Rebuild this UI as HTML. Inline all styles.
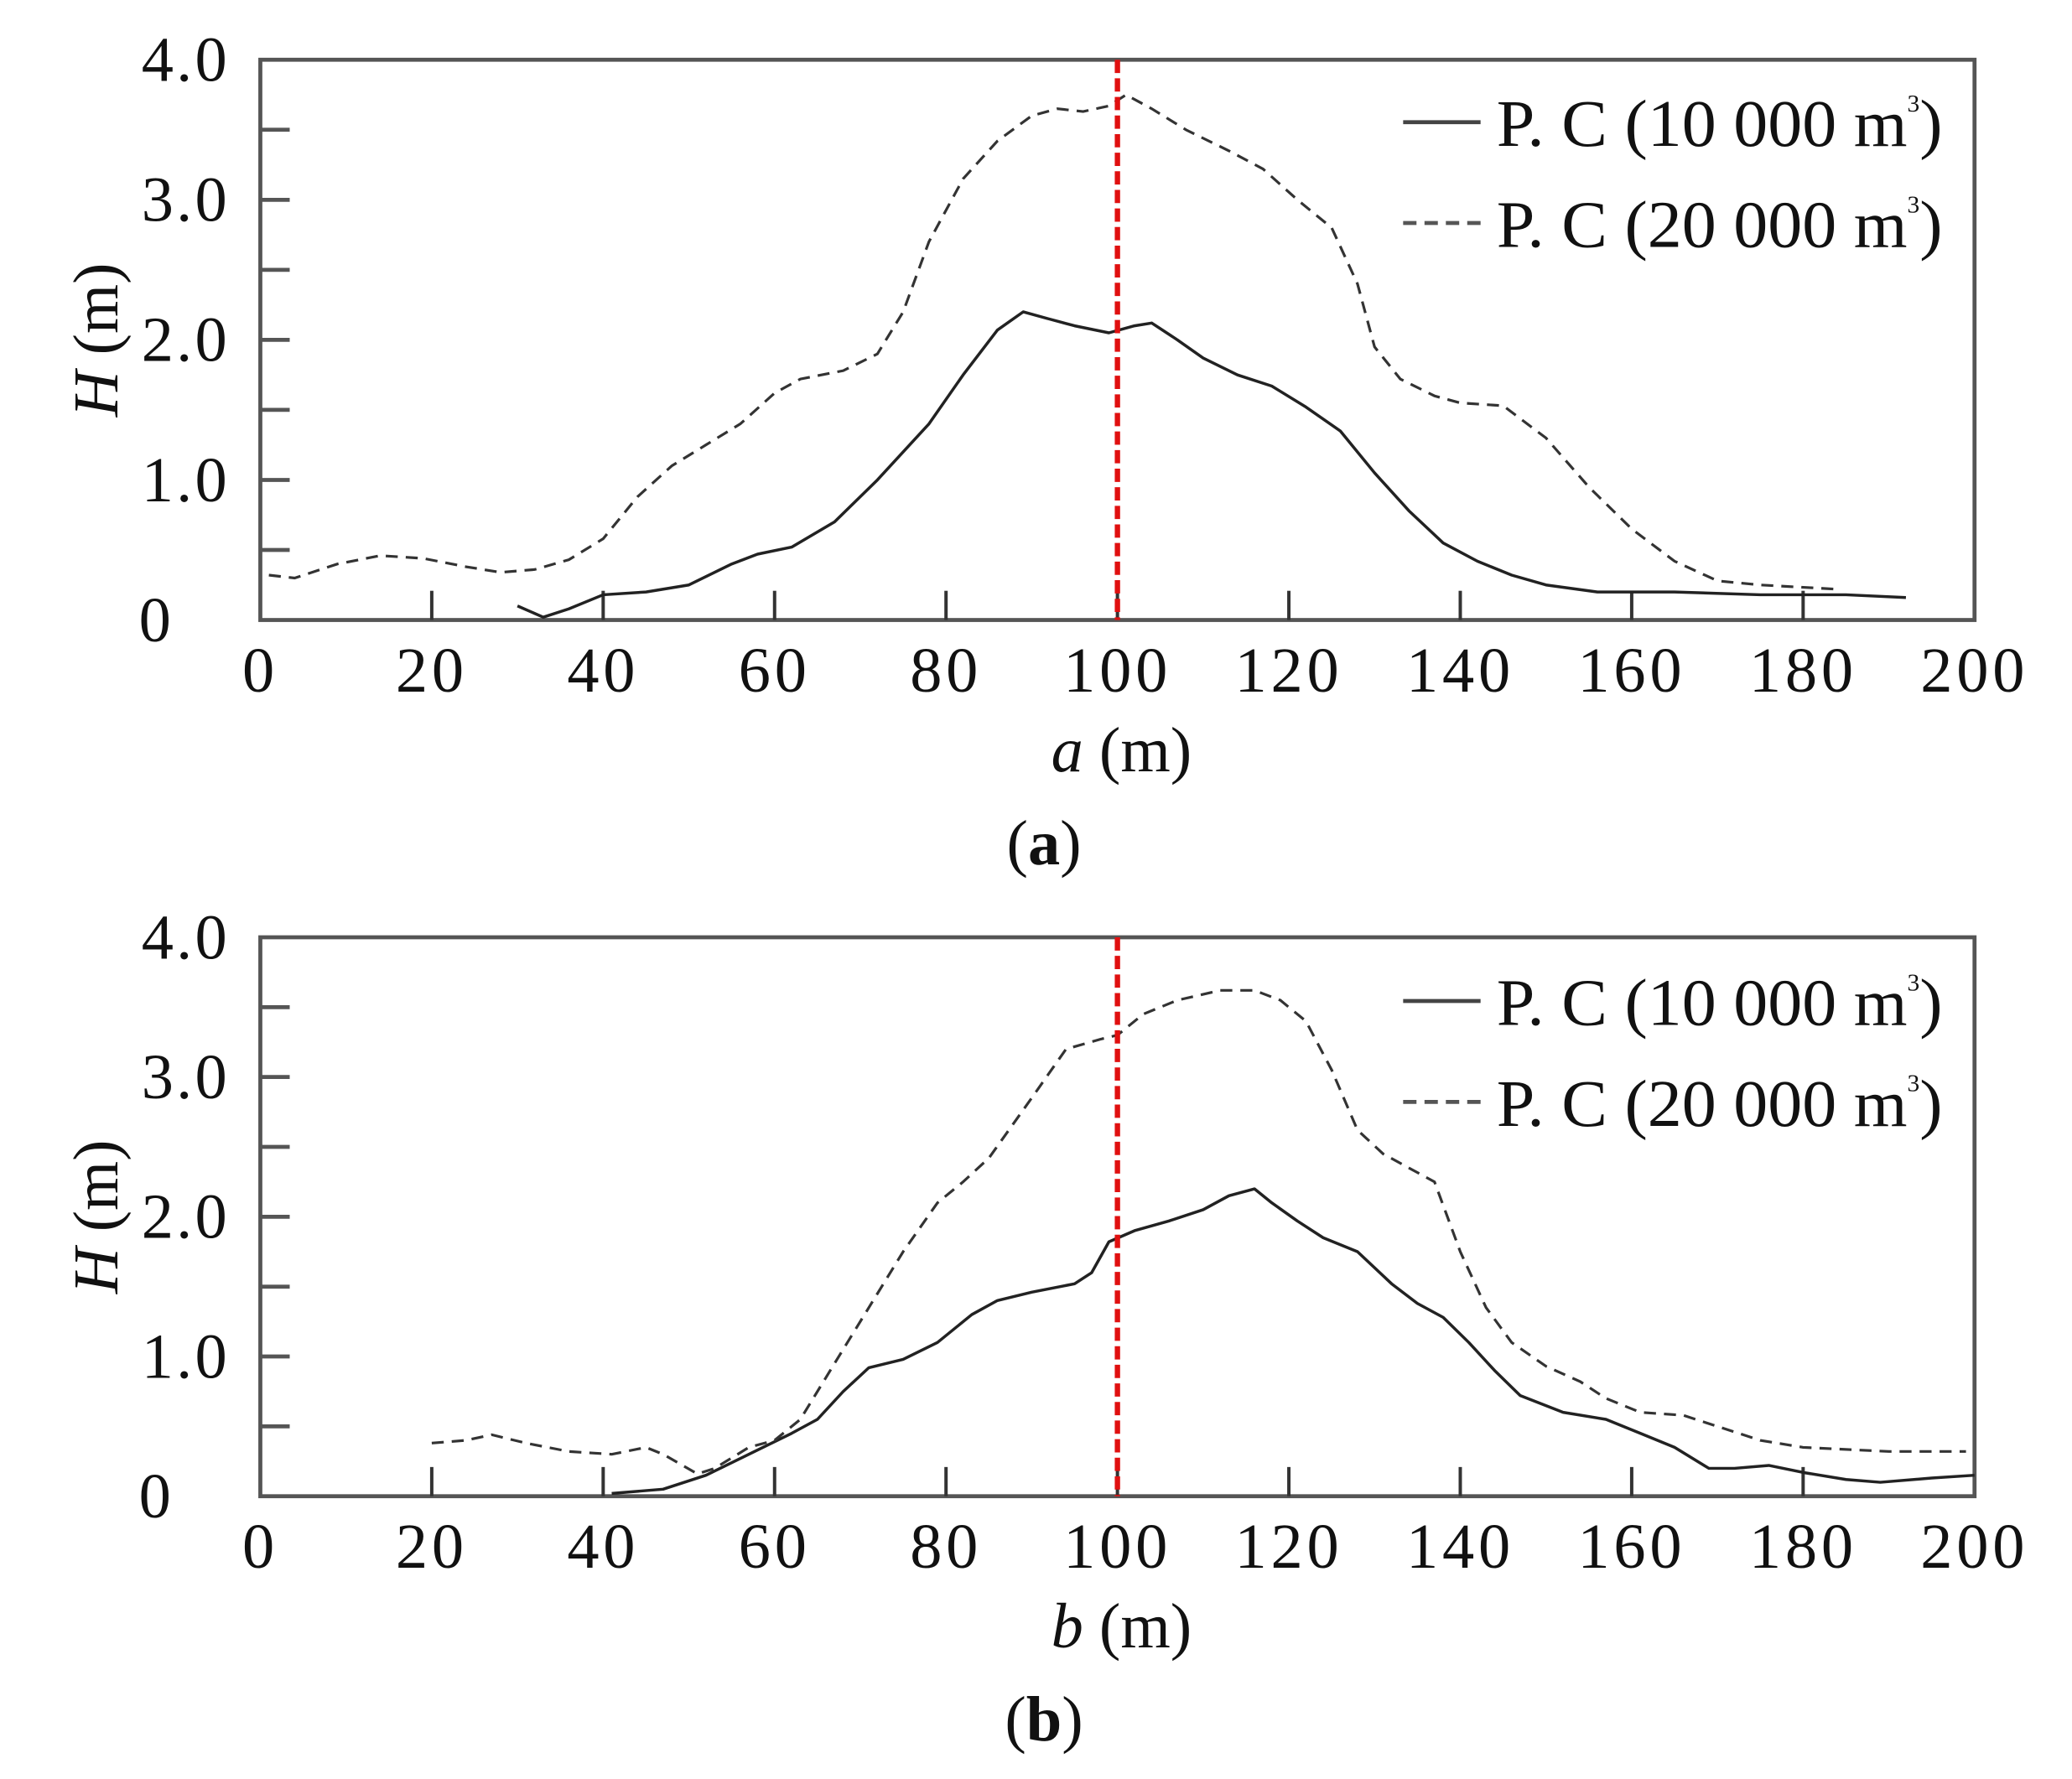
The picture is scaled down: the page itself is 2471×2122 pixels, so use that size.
<!DOCTYPE html>
<html><head><meta charset="utf-8"><style>
html,body{margin:0;padding:0;background:#fff;}
svg{display:block;}
text{font-family:"Liberation Serif",serif;fill:#111;}
</style></head><body>
<svg id="s" width="2471" height="2122" viewBox="0 0 1552 1340" preserveAspectRatio="none" xmlns="http://www.w3.org/2000/svg"></svg>
<script>
const S=document.getElementById('s');let h='';
function panel(top,bot,lab,cap,sol,das,ly){
 const L=195,R=1479,X=v=>L+v*(R-L)/200,Y=v=>bot-v*(bot-top)/4;
 h+=`<rect x="${L}" y="${top}" width="${R-L}" height="${bot-top}" fill="none" stroke="#555" stroke-width="3"/>`;
 for(let i=1;i<8;i++)h+=`<line x1="${L}" x2="${L+22}" y1="${Y(i/2)}" y2="${Y(i/2)}" stroke="#555" stroke-width="3"/>`;
 for(let i=1;i<10;i++)h+=`<line x1="${X(i*20)}" x2="${X(i*20)}" y1="${bot}" y2="${bot-22}" stroke="#333" stroke-width="2.5"/>`;
 ['0','1.0','2.0','3.0','4.0'].forEach((t,i)=>h+=`<text x="${i?172:130}" y="${Y(i)+16}" font-size="48" text-anchor="end" letter-spacing="2">${t}</text>`);
 for(let i=0;i<=10;i++)h+=`<text x="${X(i*20)}" y="${bot+54}" font-size="48" text-anchor="middle" letter-spacing="3">${i*20}</text>`;
 h+=`<text x="840" y="${bot+114}" font-size="48" text-anchor="middle"><tspan font-style="italic">${lab}</tspan> (m)</text>`;
 h+=`<text x="782" y="${bot+184}" font-size="48" text-anchor="middle">(<tspan font-weight="bold">${cap}</tspan>)</text>`;
 h+=`<text transform="translate(88,${(top+bot)/2}) rotate(-90)" font-size="48" text-anchor="middle"><tspan font-style="italic">H</tspan> (m)</text>`;
 const p=a=>a.map(q=>X(q[0]).toFixed(1)+','+Y(q[1]).toFixed(1)).join(' ');
 h+=`<polyline points="${p(sol)}" fill="none" stroke="#222" stroke-width="2.2" stroke-linejoin="round"/>`;
 h+=`<polyline points="${p(das)}" fill="none" stroke="#333" stroke-width="2" stroke-dasharray="9,6"/>`;
 h+=`<line x1="${X(100)}" x2="${X(100)}" y1="${top}" y2="${bot}" stroke="#e01010" stroke-width="4" stroke-dasharray="10,4"/>`;
 h+=`<line x1="1051" x2="1109" y1="${ly}" y2="${ly}" stroke="#444" stroke-width="3"/>`;
 h+=`<line x1="1051" x2="1115" y1="${ly+76}" y2="${ly+76}" stroke="#555" stroke-width="3" stroke-dasharray="10,6"/>`;
 h+=`<text x="1121" y="${ly+18}" font-size="50" textLength="334" lengthAdjust="spacingAndGlyphs">P. C (10 000 m<tspan font-size="18" dy="-26">3</tspan><tspan dy="26">)</tspan></text>`;
 h+=`<text x="1121" y="${ly+94}" font-size="50" textLength="334" lengthAdjust="spacingAndGlyphs">P. C (20 000 m<tspan font-size="18" dy="-26">3</tspan><tspan dy="26">)</tspan></text>`;
}
panel(45,467,'a','a',
[[30,0.1],[33,0.02],[36,0.08],[40,0.18],[45,0.2],[50,0.25],[55,0.4],[58,0.47],[62,0.52],[67,0.7],[72,1.0],[78,1.4],[82,1.75],[86,2.07],[89,2.2],[92,2.15],[95,2.1],[99,2.05],[102,2.1],[104,2.12],[107,2.0],[110,1.87],[114,1.75],[118,1.67],[122,1.52],[126,1.35],[130,1.05],[134,0.78],[138,0.55],[142,0.42],[146,0.32],[150,0.25],[156,0.2],[165,0.2],[175,0.18],[185,0.18],[192,0.16]],
[[1,0.32],[4,0.3],[9,0.4],[14,0.46],[19,0.44],[24,0.38],[28,0.34],[32,0.36],[36,0.43],[40,0.58],[44,0.88],[48,1.1],[52,1.25],[56,1.4],[60,1.62],[63,1.72],[68,1.78],[72,1.9],[75,2.2],[78,2.7],[82,3.15],[86,3.42],[90,3.6],[93,3.65],[96,3.63],[99,3.67],[101,3.75],[104,3.65],[108,3.5],[113,3.35],[117,3.22],[121,3.0],[125,2.8],[128,2.4],[130,1.95],[133,1.72],[137,1.6],[140,1.55],[145,1.53],[150,1.3],[155,0.95],[160,0.65],[165,0.42],[170,0.28],[175,0.25],[184,0.22]],92);
panel(706,1127,'b','b',
[[41,0.02],[47,0.05],[52,0.15],[57,0.3],[62,0.45],[65,0.55],[68,0.75],[71,0.92],[75,0.98],[79,1.1],[83,1.3],[86,1.4],[90,1.46],[95,1.52],[97,1.6],[99,1.82],[102,1.9],[106,1.97],[110,2.05],[113,2.15],[116,2.2],[118,2.1],[121,1.97],[124,1.85],[128,1.75],[132,1.52],[135,1.38],[138,1.28],[141,1.1],[144,0.9],[147,0.72],[152,0.6],[157,0.55],[161,0.45],[165,0.35],[169,0.2],[172,0.2],[176,0.22],[180,0.17],[185,0.12],[189,0.1],[195,0.13],[200,0.15]],
[[20,0.38],[24,0.4],[27,0.44],[31,0.38],[36,0.32],[41,0.3],[45,0.35],[47,0.3],[51,0.16],[53,0.2],[57,0.35],[60,0.4],[63,0.55],[67,0.95],[71,1.35],[75,1.75],[79,2.1],[82,2.25],[85,2.42],[90,2.85],[94,3.2],[98,3.27],[100,3.3],[103,3.45],[107,3.55],[112,3.62],[116,3.62],[119,3.55],[122,3.4],[125,3.05],[128,2.62],[131,2.45],[134,2.35],[137,2.25],[140,1.75],[143,1.35],[146,1.1],[150,0.93],[154,0.82],[157,0.7],[161,0.6],[166,0.58],[170,0.5],[175,0.4],[180,0.35],[190,0.32],[199,0.32]],754);
S.innerHTML=h;
</script>
</body></html>
